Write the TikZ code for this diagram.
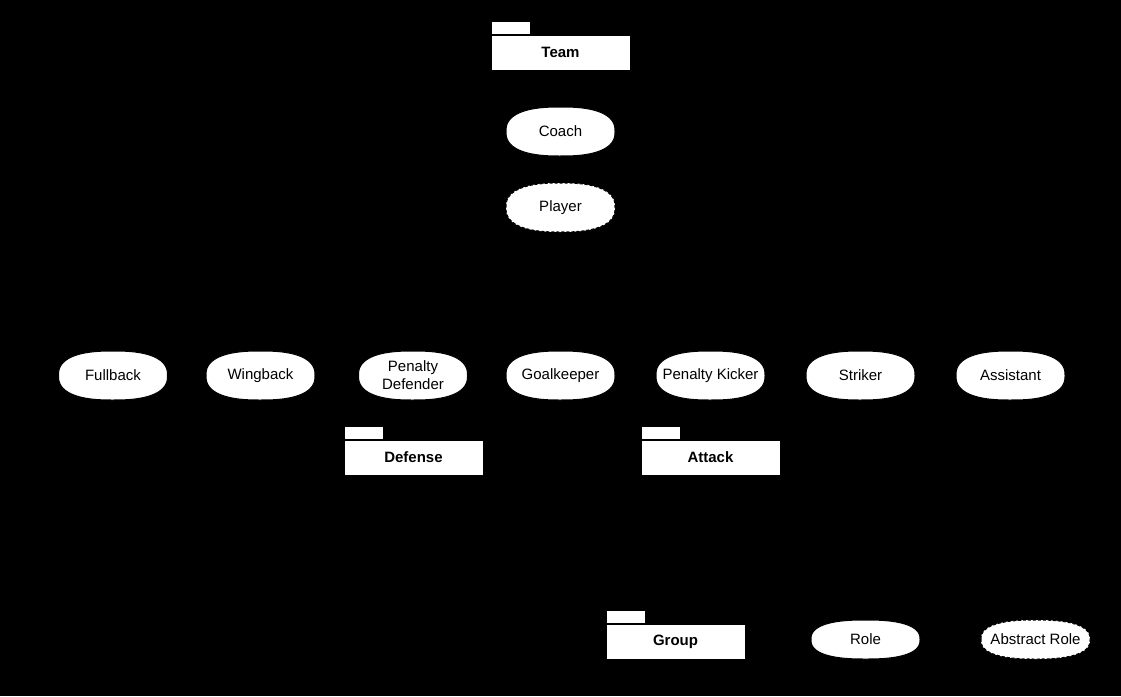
\documentclass[tikz,border=0pt]{standalone}
\usepackage{fontspec}
\setmainfont{Liberation Sans}
\newcommand\myroleshape[4]{% #1 extra style, #2 x, #3 y, #4 half height
  \path[roleline,#1,shift={(#2,#3)}] plot[domain=180.5:540.5,samples=121,variable=\t]
    ({54.5*sign(cos(\t))*abs(cos(\t))^(0.8)},{#4*sign(sin(\t))*abs(sin(\t))^(0.8)}) -- cycle;}
\begin{document}
\begin{tikzpicture}[x=1pt,y=-1pt,
  roleline/.style={draw=black,fill=white,line width=1pt},
  abstract/.style={dash pattern=on 3pt off 2pt},
  rolelabel/.style={inner sep=0pt,font=\fontsize{15}{18}\selectfont,align=center},
  pkgbody/.style={rectangle,draw=black,fill=white,line width=1pt,minimum width=139pt,minimum height=35pt,inner sep=0pt,font=\fontsize{15}{18}\selectfont\bfseries},
  pkgtab/.style={rectangle,draw=black,fill=white,line width=1pt,minimum width=39pt,minimum height=13pt,inner sep=0pt}]
\fill[black] (0,0) rectangle (1121,696);
\useasboundingbox (0,0) rectangle (1121,696);
% Team
\node[pkgtab] (teamtab) at (510.5,27.5) {};
\node[pkgbody] (team) at (560.5,52.5) {Team};
\myroleshape{}{560.5}{131.5}{24.5}
\node[rolelabel] (coach) at (560.5,131.5) {Coach};
\myroleshape{abstract}{560.5}{207.5}{24.5}
\node[rolelabel] (player) at (560.5,207.5) {Player};
% roles row
\myroleshape{}{113}{375.5}{24.5}
\node[rolelabel] (fullback) at (113,375.5) {Fullback};
\myroleshape{}{260.5}{375.5}{24.5}
\node[rolelabel] (wingback) at (260.5,375.5) {Wingback};
\myroleshape{}{413}{375.5}{24.5}
\node[rolelabel] (pdef) at (413,375.5) {Penalty\\Defender};
\myroleshape{}{560.5}{375.5}{24.5}
\node[rolelabel] (gk) at (560.5,375.5) {Goalkeeper};
\myroleshape{}{710.5}{375.5}{24.5}
\node[rolelabel] (pkick) at (710.5,375.5) {Penalty Kicker};
\myroleshape{}{860.5}{375.5}{24.5}
\node[rolelabel] (striker) at (860.5,375.5) {Striker};
\myroleshape{}{1010.5}{375.5}{24.5}
\node[rolelabel] (assist) at (1010.5,375.5) {Assistant};
% Defense / Attack
\node[pkgtab] (deftab) at (363.5,432.5) {};
\node[pkgbody] (defense) at (413.5,457.5) {Defense};
\node[pkgtab] (atttab) at (660.5,432.5) {};
\node[pkgbody] (attack) at (710.5,457.5) {Attack};
% legend
\node[pkgtab] (grouptab) at (625.5,616.5) {};
\node[pkgbody] (group) at (675.5,641.5) {Group};
\myroleshape{}{865.5}{639.5}{19.5}
\node[rolelabel] (role) at (865.5,639.5) {Role};
\myroleshape{abstract}{1035.5}{639.5}{19.5}
\node[rolelabel] (absrole) at (1035.5,639.5) {Abstract Role};
\end{tikzpicture}
\end{document}
